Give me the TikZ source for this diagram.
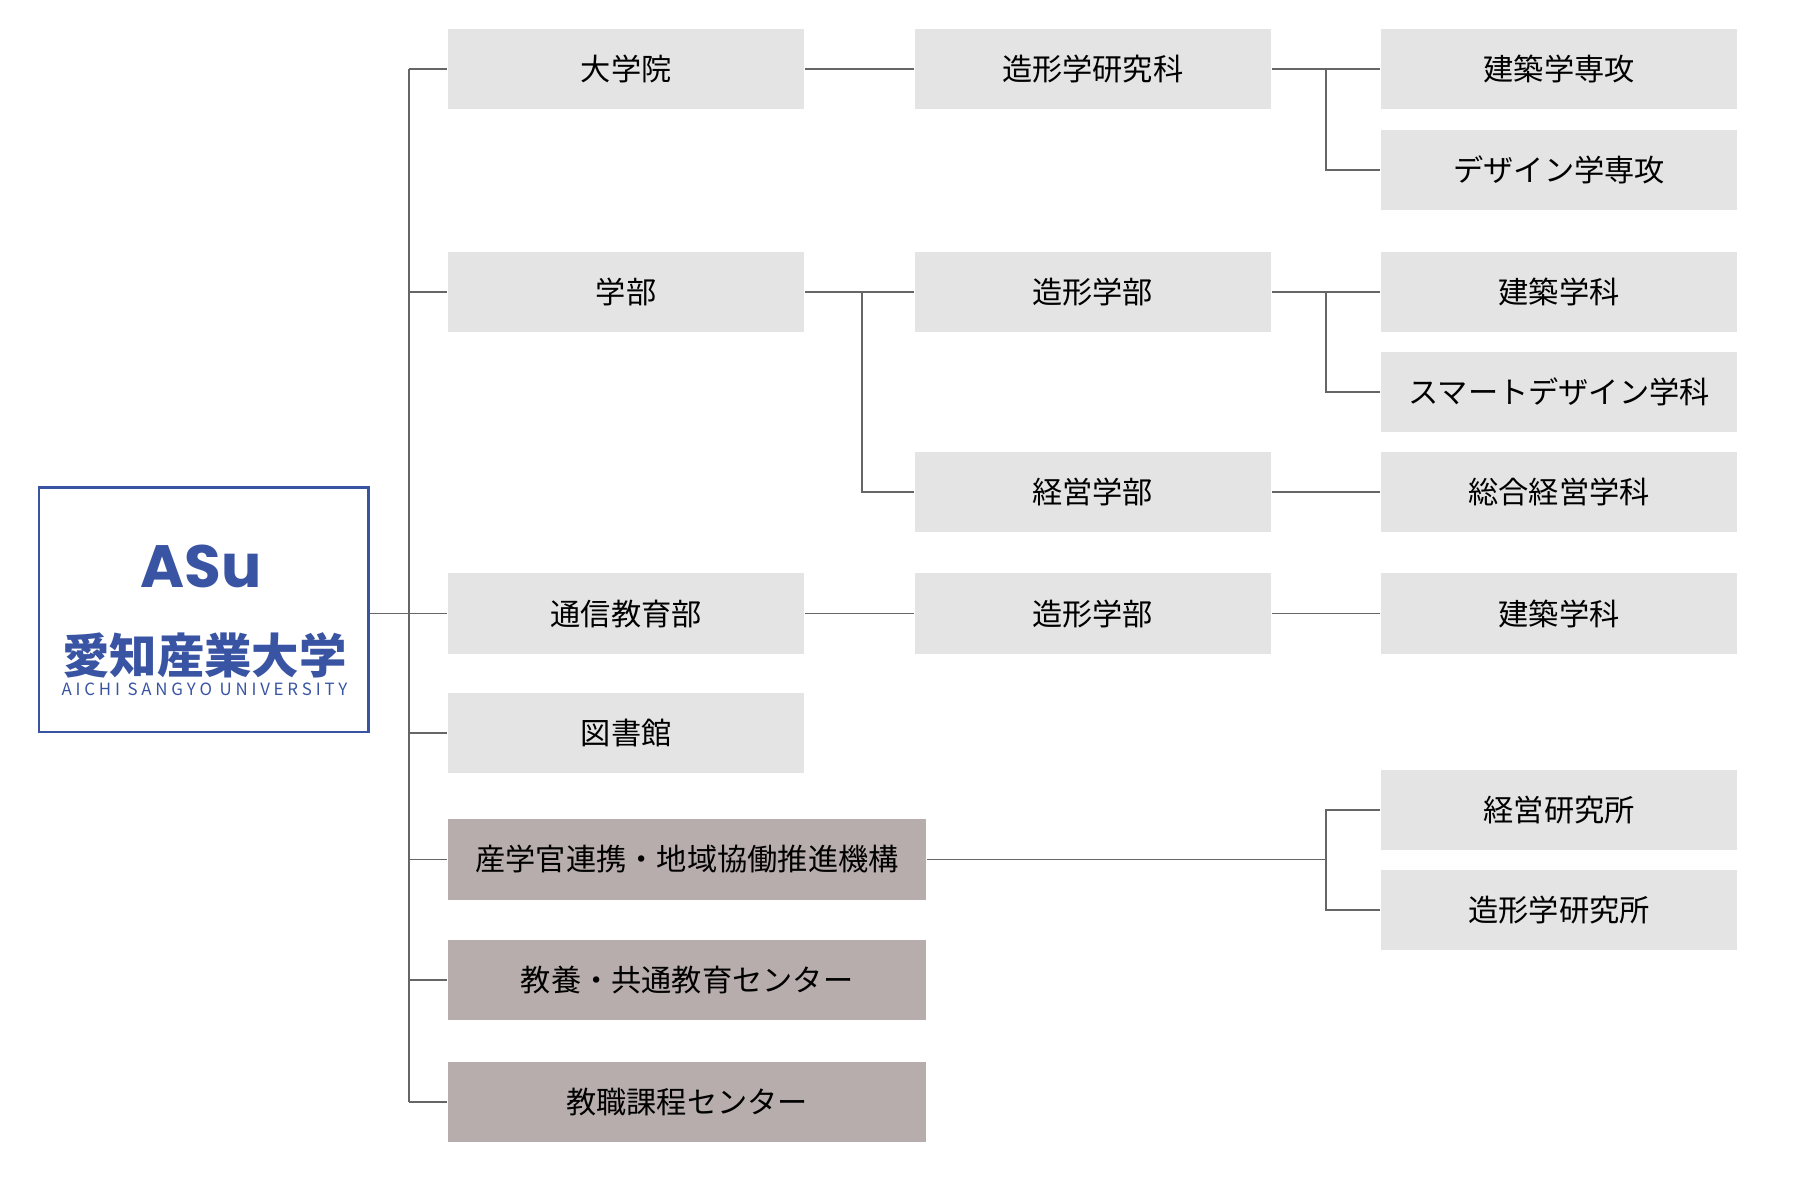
\documentclass[tikz,border=0pt]{standalone}
\usepackage{fontspec}
\newfontfamily\jp{Noto Sans CJK JP}
\newfontfamily\lat{Poppins}
\definecolor{boxgray}{HTML}{E4E4E4}
\definecolor{orggray}{HTML}{B8ADAD}
\definecolor{asublue}{HTML}{3A54A4}
\tikzset{
  unit/.style={fill=boxgray,minimum width=310*0.1149mm,minimum height=70*0.1149mm,inner sep=0pt,font=\jp\fontsize{8.6}{10}\selectfont},
  org/.style={unit,fill=orggray,minimum width=416*0.1149mm},
  link/.style={draw=black!60,line width=0.5pt}
}
\begin{document}
\begin{tikzpicture}[x=0.1149mm,y=-0.1149mm]
\useasboundingbox (0,0) rectangle (1566.6,1044.4);
% logo
\node[draw=asublue,line width=0.8pt,minimum width=287*0.1149mm,minimum height=213*0.1149mm,inner sep=0pt] (logo) at (177.5,530.5) {};
\node[text=asublue,font=\lat\bfseries\fontsize{17}{17}\selectfont] (asu) at (175,493) {ASu};
\node[text=asublue,font=\jp\bfseries\fontsize{13.5}{14}\selectfont] (name) at (178,570) {愛知産業大学};
\node[text=asublue,font=\jp\fontsize{4.8}{5}\selectfont] (eng) at (178,600) {A I C H I\ \ S A N G Y O\ \ U N I V E R S I T Y};
% first column
\node[unit] (grad) at (545,60) {大学院};
\node[unit] (fac) at (545,254) {学部};
\node[unit] (corr) at (545,534) {通信教育部};
\node[unit] (lib) at (545,638) {図書館};
\node[org] (coop) at (598,748) {産学官連携・地域協働推進機構};
\node[org] (gen) at (598,853) {教養・共通教育センター};
\node[org] (tch) at (598,959) {教職課程センター};
% second column
\node[unit] (gdes) at (951,60) {造形学研究科};
\node[unit] (fdes) at (951,254) {造形学部};
\node[unit] (fman) at (951,428) {経営学部};
\node[unit] (cdes) at (951,534) {造形学部};
% third column
\node[unit] (garc) at (1357,60) {建築学専攻};
\node[unit] (gdsn) at (1357,148) {デザイン学専攻};
\node[unit] (darc) at (1357,254) {建築学科};
\node[unit] (dsmt) at (1357,341) {スマートデザイン学科};
\node[unit] (dman) at (1357,428) {総合経営学科};
\node[unit] (carc) at (1357,534) {建築学科};
\node[unit] (rman) at (1357,705) {経営研究所};
\node[unit] (rdes) at (1357,792) {造形学研究所};
% connectors
\coordinate (top) at (356,60);
\coordinate (bot) at (356,959);
\draw[link] (top) -- (bot);
\draw[link] (logo.east |- corr) -- (corr.west);
\foreach \n in {grad,fac,lib,coop,gen,tch}
  \draw[link] (356,0 |- \n.west) -- (\n.west);
\draw[link] (grad) -- (gdes);
\draw[link] (fac) -- (fdes);
\draw[link] (750,254) |- (fman.west);
\draw[link] (corr) -- (cdes);
\draw[link] (fman) -- (dman);
\draw[link] (cdes) -- (carc);
\draw[link] (gdes) -- (garc);
\draw[link] (1154,60) |- (gdsn.west);
\draw[link] (fdes) -- (darc);
\draw[link] (1154,254) |- (dsmt.west);
\draw[link] (coop.east) -- (1154,748);
\draw[link] (rman.west) -| (1154,748) |- (rdes.west);
\end{tikzpicture}
\end{document}
